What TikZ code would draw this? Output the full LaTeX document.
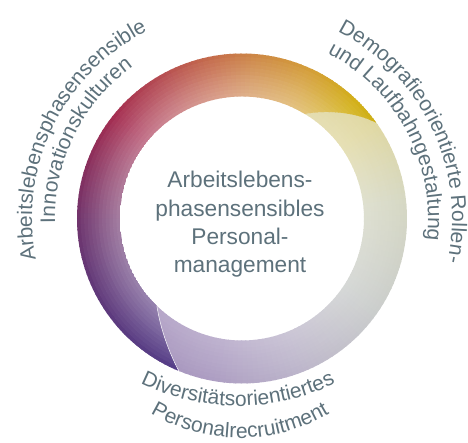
\documentclass[tikz,border=0pt]{standalone}
\usepackage{fontspec}
\setmainfont{Liberation Sans}
\usetikzlibrary{decorations.text}

\definecolor{txtgrey}{HTML}{5D717B}
% dark part of the ring
\definecolor{darkA}{HTML}{55408A}
\definecolor{darkB}{HTML}{5A3C82}
\definecolor{darkC}{HTML}{633877}
\definecolor{darkD}{HTML}{70356D}
\definecolor{darkE}{HTML}{882F5D}
\definecolor{darkF}{HTML}{A52F52}
\definecolor{darkG}{HTML}{B54C53}
\definecolor{darkH}{HTML}{C56C4C}
\definecolor{darkI}{HTML}{CD8747}
\definecolor{darkJ}{HTML}{D49E3A}
\definecolor{darkK}{HTML}{D3B01A}
\definecolor{darkL}{HTML}{CCB015}
% pale part of the ring
\definecolor{paleA}{HTML}{DDD39A}
\definecolor{paleB}{HTML}{E0D8A2}
\definecolor{paleC}{HTML}{D6D8C4}
\definecolor{paleD}{HTML}{CBCECC}
\definecolor{paleE}{HTML}{BDB6CB}
\definecolor{paleF}{HTML}{AE9FC3}
\definecolor{paleG}{HTML}{A28EBA}

\newcommand{\labelfont}{\fontsize{21}{21}\selectfont\color{txtgrey}}

% colour ramp along the ring, lighter towards the inside
\newcommand{\ringshade}[5]{%
  \pgfmathtruncatemacro{\nsteps}{max(1,round(abs((#2)-(#1))/2))}%
  \foreach \i in {1,...,\nsteps} {%
    \pgfmathsetmacro{\angA}{(#1)+((#2)-(#1))*(\i-1)/\nsteps}%
    \pgfmathsetmacro{\angB}{(#1)+((#2)-(#1))*\i/\nsteps+sign((#2)-(#1))*0.5}%
    \pgfmathtruncatemacro{\mix}{100*\i/\nsteps}%
    \foreach \k in {0,...,11} {%
      \pgfmathsetmacro{\rout}{165-\k*43/12}%
      \pgfmathsetmacro{\rin}{max(122,\rout-43/12-0.5)}%
      \pgfmathtruncatemacro{\wh}{100-#5*\k/11}%
      \fill[fill={#4!\mix!#3!\wh!white}] (\angA:\rout) arc[start angle=\angA, end angle=\angB, radius=\rout]
        -- (\angB:\rin) arc[start angle=\angB, end angle=\angA, radius=\rin] -- cycle;
    }%
  }%
}

\tikzset{
  maintext/.style={align=center, text=txtgrey, inner sep=0pt, font=\fontsize{22.7}{28.3}\selectfont},
  ringlabel/.style={decorate, decoration={text along path, text align=center, text={|\labelfont|#1}}}
}

\begin{document}
\begin{tikzpicture}[x=1pt, y=1pt]
  \useasboundingbox (-242,-224.5) rectangle (226,218.5);
  % pale part
  \foreach \a/\b/\ca/\cb in {65/35/paleA/paleB, 35/5/paleB/paleC, 5/-35/paleC/paleD,
      -35/-70/paleD/paleE, -70/-100/paleE/paleF, -100/-140/paleF/paleG}
    \ringshade{\a}{\b}{\ca}{\cb}{20};
  % dark part, lies over the pale one
  \begin{scope}
    \clip (247.5:165) arc[start angle=247.5, end angle=35.4, radius=165]
      .. controls (113,107) and (83,108.5) .. (59:122)
      arc[start angle=59, end angle=225.8, radius=122]
      .. controls (-82,-108) and (-74,-132) .. (247.5:165) -- cycle;
    \foreach \a/\b/\ca/\cb in {250/225/darkA/darkB, 225/200/darkB/darkC, 200/180/darkC/darkD,
        180/160/darkD/darkE, 160/140/darkE/darkF, 140/120/darkF/darkG, 120/100/darkG/darkH,
        100/85/darkH/darkI, 85/65/darkI/darkJ, 65/45/darkJ/darkK, 45/30/darkK/darkL}
      \ringshade{\a}{\b}{\ca}{\cb}{35};
  \end{scope}
  \draw[white, line width=0.5pt] (225.8:122) .. controls (-82,-108) and (-74,-132) .. (247.5:165);

  \node[maintext] (core) at (-2,-6) {Arbeitslebens-\\phasensensibles\\Personal-\\management};

  % labels round the ring
  \path[ringlabel={Arbeitslebensphasensensible}] (200:210) arc[start angle=200, end angle=108, radius=210];
  \path[ringlabel={Innovationskulturen}] (199:187) arc[start angle=199, end angle=108, radius=187];
  \path[ringlabel={Demografieorientierte Rollen-}] (70:210) arc[start angle=70, end angle=-19, radius=210];
  \path[ringlabel={und Laufbahngestaltung}] (72:186) arc[start angle=72, end angle=-16, radius=186];
  \path[ringlabel={Diversitätsorientiertes}] (-114,-158) arc[start angle=240, end angle=300, radius=220];
  \path[ringlabel={Personalrecruitment}] (-109.7,-182.4) arc[start angle=232, end angle=308, radius=175];
\end{tikzpicture}
\end{document}
